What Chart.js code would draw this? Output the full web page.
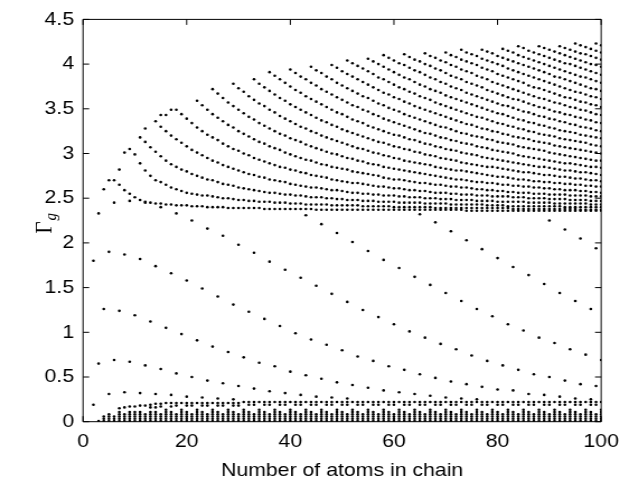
<!DOCTYPE html>
<html>
<head>
<meta charset="utf-8">
<script src="https://cdn.jsdelivr.net/npm/chart.js@4/dist/chart.umd.min.js"></script>
<style>
html,body{margin:0;padding:0;background:#fff;overflow:hidden;}
#wrap{width:562px;height:478px;transform:scaleX(1.1192);transform-origin:0 0;}
canvas{display:block;}
</style>
</head>
<body>
<div id="wrap"><canvas id="c" width="562" height="478"></canvas></div>
<script>
// ---- axis ticks ----
const xTickValues = [0, 20, 40, 60, 80, 100];
const yTickValues = [0, 0.5, 1, 1.5, 2, 2.5, 3, 3.5, 4, 4.5];
const xTitle = 'Number of atoms in chain';

// ---- upper band: each arc has one value per chain length, starting at bandArcStart[k] ----
const bandArcStart = [4,7,11,14,18,22,25,29,33,36,40,44,48,51,55,58,62,66,70,73,77,81,84,88,92,95,99];
const arc01 = [2.60,2.70,2.70,2.65,2.59,2.55,2.51,2.48,2.46,2.45,2.44,2.44,2.43,2.43,2.42,2.42,2.42,2.41,2.41,2.41,2.40,2.40,2.40,2.40,2.39,2.39,2.39,2.39,2.39,2.39,2.39,2.38,
2.38,2.38,2.38,2.38,2.38,2.38,2.38,2.38,2.38,
2.37,2.37,2.37,2.37,2.37,2.37,2.37,2.37,2.37,2.37,2.37,2.37,2.37,2.37,2.37,2.37,2.37,2.37,2.37,2.37,2.37,2.37,2.37,2.37,2.37,2.37,2.37,2.37,2.37,
2.36,2.36,2.36,2.36,2.36,2.36,2.36,2.36,2.36,2.36,2.36,2.36,2.36,2.36,2.36,2.36,2.36,2.36,2.36,2.36,2.36,2.36,2.36,2.36,2.36,2.36,2.36];
const arc02 = [2.82,3.01,3.05,2.99,2.89,2.81,2.75,2.70,2.68,2.65,2.62,2.60,2.58,2.56,2.55,2.54,2.53,2.53,2.52,2.51,2.50,2.50,2.49,2.48,2.48,2.47,2.47,2.46,2.46,2.46,2.45,2.45,2.45,2.44,2.44,2.44,2.43,2.43,2.43,2.43,2.43,
2.42,2.42,2.42,2.42,2.42,2.42,2.41,2.41,2.41,2.41,2.41,2.41,2.40,2.40,2.40,2.40,2.40,2.40,2.40,2.40,
2.39,2.39,2.39,2.39,2.39,2.39,2.39,2.39,2.39,2.39,2.39,2.39,2.39,2.39,2.39,
2.38,2.38,2.38,2.38,2.38,2.38,2.38,2.38,2.38,2.38,2.38,2.38,2.38,2.37,2.37,2.37,2.37,2.37];
const arc03 = [3.18,3.13,3.07,3.02,2.97,2.92,2.88,2.85,2.82,2.80,2.77,2.75,2.73,2.71,2.70,2.68,2.66,2.65,2.64,2.62,2.61,2.60,2.59,2.58,2.57,2.56,2.56,2.55,2.54,2.54,2.53,2.53,2.52,2.51,2.51,2.51,2.50,2.50,2.49,2.49,2.48,2.48,2.48,2.47,2.47,2.47,2.46,2.46,2.46,2.46,2.45,2.45,2.45,2.45,2.45,2.44,2.44,2.44,2.44,2.44,2.43,2.43,2.43,2.43,2.43,2.43,2.43,2.42,2.42,2.42,2.42,
2.41,2.41,2.41,2.41,2.41,2.41,2.41,2.41,2.41,2.41,2.41,2.40,2.40,2.40,2.40,2.40,2.40,2.40,2.40];
const arc04 = [3.36,3.30,3.25,3.20,3.16,3.12,3.08,3.04,3.01,2.98,2.95,2.92,2.90,2.87,2.85,2.83,2.81,2.79,2.77,2.76,2.74,2.73,2.71,2.70,2.69,2.68,2.66,2.65,2.64,2.63,2.62,2.62,2.61,2.60,2.59,2.59,2.58,2.57,2.56,2.56,2.55,2.55,2.54,2.54,2.53,2.53,2.53,2.52,2.52,2.51,2.51,2.51,2.50,2.50,2.50,2.49,2.49,2.49,2.48,2.48,2.48,2.48,2.47,2.47,2.47,2.47,2.46,2.46,2.46,2.46,2.46,2.46,2.45,2.45,2.45,2.45,2.45,2.44,2.44,2.44,2.44,2.44,2.44,2.44,2.43,2.43,2.43];
const arc05 = [3.49,3.44,3.39,3.34,3.29,3.25,3.21,3.18,3.15,3.11,3.08,3.05,3.03,3.00,2.98,2.95,2.93,2.91,2.89,2.87,2.85,2.84,2.82,2.81,2.79,2.78,2.76,2.75,2.74,2.73,2.71,2.70,2.69,2.68,2.67,2.67,2.66,2.65,2.64,2.63,2.63,2.62,2.61,2.61,2.60,2.59,2.59,2.58,2.58,2.57,2.56,2.56,2.56,2.55,2.55,2.54,2.54,2.54,2.53,2.53,2.53,2.52,2.52,2.52,2.52,2.51,2.51,2.51,2.50,2.50,2.50,2.50,2.49,2.49,2.49,2.49,2.48,2.48,2.48,2.48,2.47,2.47,2.47];
const arc06 = [3.59,3.54,3.49,3.44,3.40,3.36,3.32,3.29,3.25,3.22,3.19,3.16,3.13,3.11,3.08,3.06,3.04,3.01,2.99,2.97,2.95,2.93,2.92,2.90,2.88,2.87,2.85,2.84,2.83,2.82,2.80,2.79,2.78,2.77,2.76,2.75,2.73,2.72,2.71,2.71,2.70,2.69,2.68,2.67,2.67,2.66,2.65,2.65,2.64,2.63,2.63,2.62,2.62,2.61,2.60,2.60,2.59,2.59,2.58,2.58,2.57,2.57,2.56,2.56,2.56,2.55,2.55,2.55,2.54,2.54,2.54,2.54,2.53,2.53,2.53,2.53,2.52,2.52,2.52];
const arc07 = [3.72,3.67,3.62,3.57,3.53,3.49,3.45,3.41,3.38,3.34,3.31,3.28,3.25,3.22,3.20,3.17,3.15,3.13,3.10,3.08,3.06,3.04,3.02,3.00,2.99,2.97,2.95,2.94,2.92,2.91,2.89,2.88,2.87,2.85,2.84,2.83,2.82,2.81,2.80,2.79,2.78,2.77,2.76,2.75,2.74,2.73,2.72,2.71,2.71,2.70,2.69,2.68,2.68,2.67,2.67,2.66,2.65,2.65,2.64,2.64,2.63,2.63,2.62,2.62,2.61,2.61,2.60,2.60,2.59,2.59,2.59,2.58,2.58,2.57,2.57,2.56];
const arc08 = [3.78,3.73,3.69,3.64,3.60,3.56,3.53,3.49,3.46,3.42,3.39,3.36,3.33,3.30,3.28,3.25,3.23,3.20,3.18,3.16,3.14,3.12,3.10,3.08,3.06,3.05,3.03,3.01,3.00,2.98,2.97,2.95,2.94,2.92,2.91,2.90,2.89,2.88,2.87,2.85,2.84,2.83,2.82,2.81,2.81,2.80,2.79,2.78,2.77,2.76,2.75,2.74,2.74,2.73,2.72,2.71,2.71,2.70,2.69,2.69,2.68,2.68,2.67,2.67,2.66,2.66,2.65,2.65,2.64,2.64,2.63,2.63];
const arc09 = [3.83,3.78,3.74,3.70,3.66,3.62,3.59,3.55,3.52,3.49,3.46,3.43,3.40,3.37,3.35,3.32,3.30,3.27,3.25,3.23,3.21,3.19,3.17,3.15,3.13,3.12,3.10,3.08,3.07,3.05,3.04,3.02,3.01,2.99,2.98,2.97,2.95,2.94,2.93,2.92,2.90,2.89,2.88,2.87,2.86,2.85,2.85,2.84,2.83,2.82,2.81,2.80,2.79,2.79,2.78,2.77,2.76,2.76,2.75,2.74,2.74,2.73,2.72,2.72,2.71,2.70,2.70,2.69];
const arc10 = [3.91,3.87,3.83,3.79,3.75,3.71,3.68,3.64,3.61,3.58,3.55,3.52,3.49,3.46,3.44,3.41,3.38,3.36,3.34,3.31,3.29,3.27,3.25,3.23,3.21,3.20,3.18,3.16,3.15,3.13,3.11,3.10,3.08,3.07,3.05,3.04,3.03,3.01,3.00,2.99,2.98,2.96,2.95,2.94,2.93,2.92,2.91,2.90,2.89,2.88,2.87,2.86,2.85,2.85,2.84,2.83,2.82,2.81,2.81,2.80,2.79,2.79,2.78,2.77,2.76];
const arc11 = [3.94,3.90,3.86,3.83,3.79,3.76,3.72,3.69,3.66,3.63,3.60,3.57,3.54,3.52,3.49,3.47,3.44,3.42,3.39,3.37,3.35,3.33,3.31,3.29,3.27,3.25,3.23,3.22,3.20,3.18,3.17,3.15,3.14,3.12,3.11,3.10,3.08,3.07,3.06,3.04,3.03,3.02,3.01,3.00,2.98,2.97,2.96,2.95,2.94,2.93,2.92,2.91,2.90,2.89,2.89,2.88,2.87,2.86,2.85,2.85,2.84];
const arc12 = [3.97,3.93,3.90,3.86,3.83,3.79,3.76,3.73,3.70,3.67,3.64,3.62,3.59,3.56,3.54,3.51,3.49,3.47,3.44,3.42,3.40,3.38,3.36,3.34,3.32,3.30,3.29,3.27,3.25,3.23,3.22,3.20,3.19,3.18,3.16,3.15,3.13,3.12,3.11,3.10,3.08,3.07,3.06,3.05,3.04,3.03,3.01,3.00,2.99,2.98,2.97,2.96,2.95,2.94,2.93,2.92,2.92];
const arc13 = [3.99,3.96,3.92,3.89,3.86,3.83,3.80,3.77,3.74,3.71,3.68,3.66,3.63,3.61,3.58,3.56,3.53,3.51,3.49,3.47,3.45,3.43,3.41,3.39,3.37,3.35,3.33,3.32,3.30,3.28,3.27,3.25,3.24,3.22,3.21,3.19,3.18,3.17,3.16,3.14,3.13,3.12,3.11,3.09,3.08,3.07,3.06,3.05,3.04,3.03,3.02,3.01,3.00];
const arc14 = [4.04,4.01,3.98,3.95,3.92,3.89,3.85,3.83,3.80,3.77,3.74,3.72,3.69,3.67,3.64,3.62,3.60,3.57,3.55,3.53,3.51,3.49,3.47,3.45,3.43,3.41,3.40,3.38,3.36,3.34,3.33,3.31,3.30,3.28,3.27,3.25,3.24,3.22,3.21,3.20,3.19,3.17,3.16,3.15,3.14,3.13,3.12,3.10,3.09,3.08];
const arc15 = [4.06,4.03,4.00,3.97,3.94,3.91,3.88,3.85,3.83,3.80,3.77,3.75,3.72,3.70,3.68,3.65,3.63,3.61,3.59,3.57,3.55,3.53,3.51,3.49,3.47,3.45,3.44,3.42,3.40,3.38,3.37,3.35,3.34,3.32,3.31,3.29,3.28,3.26,3.25,3.24,3.23,3.21,3.20,3.19,3.18,3.17];
const arc16 = [4.10,4.07,4.04,4.01,3.99,3.96,3.93,3.91,3.88,3.85,3.83,3.80,3.78,3.75,3.73,3.71,3.68,3.66,3.64,3.62,3.60,3.58,3.56,3.54,3.53,3.51,3.49,3.47,3.46,3.44,3.42,3.41,3.39,3.38,3.36,3.35,3.33,3.32,3.30,3.29,3.28,3.26,3.25];
const arc17 = [4.11,4.08,4.05,4.03,4.00,3.98,3.95,3.93,3.90,3.87,3.85,3.83,3.80,3.78,3.76,3.74,3.71,3.69,3.67,3.65,3.63,3.61,3.60,3.58,3.56,3.54,3.52,3.51,3.49,3.47,3.46,3.44,3.43,3.41,3.40,3.38,3.37,3.35,3.34];
const arc18 = [4.12,4.09,4.07,4.04,4.02,3.99,3.97,3.94,3.92,3.90,3.87,3.85,3.83,3.80,3.78,3.76,3.74,3.72,3.70,3.68,3.66,3.64,3.62,3.61,3.59,3.57,3.56,3.54,3.52,3.51,3.49,3.48,3.46,3.44,3.43];
const arc19 = [4.13,4.10,4.08,4.05,4.03,4.01,3.99,3.96,3.94,3.92,3.89,3.87,3.85,3.83,3.81,3.79,3.76,3.74,3.73,3.71,3.69,3.67,3.65,3.63,3.62,3.60,3.58,3.57,3.55,3.54,3.52];
const arc20 = [4.16,4.13,4.11,4.09,4.06,4.04,4.02,4.00,3.98,3.95,3.93,3.91,3.89,3.87,3.85,3.83,3.81,3.79,3.77,3.75,3.73,3.71,3.69,3.68,3.66,3.64,3.63,3.61];
const arc21 = [4.16,4.14,4.12,4.09,4.07,4.05,4.03,4.01,3.99,3.97,3.95,3.93,3.91,3.89,3.86,3.85,3.83,3.81,3.79,3.77,3.75,3.73,3.72,3.70];
const arc22 = [4.17,4.15,4.13,4.10,4.08,4.06,4.04,4.02,4.00,3.98,3.96,3.94,3.92,3.90,3.88,3.86,3.85,3.83,3.81,3.79];
const arc23 = [4.20,4.18,4.15,4.13,4.11,4.09,4.07,4.05,4.03,4.01,4.00,3.98,3.96,3.94,3.92,3.90,3.88];
const arc24 = [4.20,4.18,4.16,4.14,4.12,4.10,4.08,4.06,4.04,4.02,4.00,3.99,3.97];
const arc25 = [4.20,4.18,4.16,4.14,4.12,4.11,4.09,4.07,4.05];
const arc26 = [4.23,4.21,4.19,4.17,4.15,4.13];
const arc27 = [4.23,4.21];
const bandArcs = [arc01,arc02,arc03,arc04,arc05,arc06,arc07,arc08,arc09,arc10,arc11,arc12,arc13,arc14,arc15,arc16,arc17,arc18,arc19,arc20,arc21,arc22,arc23,arc24,arc25,arc26,arc27];
// single extra dots on the jagged upper edge at small N
const bandExtraN = [12, 15, 16, 17];
const bandExtraY = [3.28, 3.43, 3.43, 3.49];

// ---- isolated descending lines: one value every 3rd chain length ----
const lineStep = 3;
const lineStart = [2, 3, 4, 3, 5, 43, 65, 90];
const lowLine1 = [1.80,1.90,1.87,1.82,1.74,1.66,1.58,1.49,1.40,1.31,1.23,1.15,1.07,0.99,0.92,0.86,0.80,0.73,0.68,0.62,0.58,0.53,0.49,0.45,0.42,0.39,0.36,0.35,0.31,0.30,0.28,0.26,0.25];
const lowLine2 = [2.33,2.45,2.47,2.45,2.40,2.33,2.25,2.16,2.08,1.98,1.89,1.79,1.70,1.61,1.52,1.43,1.34,1.25,1.17,1.09,1.01,0.94,0.87,0.81,0.74,0.68,0.63,0.58,0.53,0.50,0.46,0.42,0.40];
const lowLine3 = [1.26,1.24,1.19,1.12,1.05,0.98,0.91,0.84,0.78,0.72,0.66,0.62,0.56,0.52,0.48,0.44,0.41,0.38,0.35,0.33,0.31,0.29,0.27,0.26,0.25];
const lowLine4 = [0.65,0.69,0.67,0.63,0.59,0.54,0.50,0.46,0.43,0.40,0.37,0.34,0.32,0.30,0.28,0.27,0.26];
const lowLine5 = [0.31,0.33,0.32,0.31,0.30,0.28,0.27,0.26,0.25];
const lowLine6 = [2.31,2.21,2.11,2.01,1.91,1.81,1.72,1.62,1.53,1.44,1.35,1.26,1.18,1.09,1.02,0.94,0.88,0.81,0.75,0.69];
const lowLine7 = [2.32,2.23,2.13,2.03,1.93,1.83,1.73,1.64,1.54,1.44,1.35,1.26];
const lowLine8 = [2.25,2.15,2.05,1.94];
const lowLines = [lowLine1,lowLine2,lowLine3,lowLine4,lowLine5,lowLine6,lowLine7,lowLine8];

// ---- bottom strip: stacked dots per chain length (N = 1..100) ----
const lowBarLevels = [0.008,0.033,0.058,0.083,0.108,0.133];
const lowBarTop = [null,null,0.03,0.06,0.09,0.06,0.11,0.09,0.11,0.11,
0.11,0.09,0.11,0.11,0.09,0.14,0.11,0.09,0.14,0.11,
0.09,0.14,0.11,0.09,0.14,0.11,0.09,0.14,0.11,0.09,
0.14,0.11,0.09,0.14,0.11,0.09,0.14,0.11,0.09,0.14,
0.11,0.09,0.14,0.11,0.09,0.14,0.11,0.09,0.14,0.11,
0.09,0.14,0.11,0.09,0.14,0.11,0.09,0.14,0.11,0.09,
0.14,0.11,0.09,0.14,0.11,0.09,0.14,0.11,0.09,0.14,
0.11,0.09,0.14,0.11,0.09,0.14,0.11,0.09,0.14,0.11,
0.09,0.14,0.11,0.09,0.14,0.11,0.09,0.14,0.11,0.09,
0.14,0.11,0.09,0.14,0.11,0.09,0.14,0.11,0.09,0.14];
const lowRowA = [null,0.19,null,null,null,null,0.15,0.16,0.17,0.17,0.18,0.18,0.19,0.20,0.20,0.21,
0.21,0.21,0.21,0.21,0.21,0.21,0.21,0.21,0.21,0.21,0.21,0.21,0.21,0.21,
0.22,0.22,0.22,0.22,0.22,0.22,0.22,0.22,0.22,0.22,0.22,0.22,0.22,0.22,0.22,0.22,0.22,0.22,0.22,0.22,0.22,0.22,0.22,0.22,0.22,0.22,0.22,0.22,0.22,0.22,
0.22,0.22,0.22,0.22,0.22,0.22,0.22,0.22,0.22,0.22,0.22,0.22,0.22,0.22,0.22,0.22,0.22,0.22,0.22,0.22,0.22,0.22,0.22,0.22,0.22,0.22,0.22,0.22,0.22,0.22,0.22,0.22,0.22,0.22,0.22,0.22,0.22,0.22,0.22,0.22];
const lowRowB = [null,null,null,null,null,null,null,null,null,null,null,null,0.16,0.16,0.17,null,0.17,0.18,null,0.18,
0.18,null,0.18,0.18,null,0.18,0.18,null,0.18,0.18,null,0.19,0.19,null,0.19,0.19,null,0.19,0.19,null,
0.19,0.19,null,0.19,0.19,null,0.19,0.19,null,0.19,0.19,null,0.19,0.19,null,0.19,0.19,null,0.19,0.19,
null,0.19,0.19,null,0.19,0.19,null,0.19,0.19,null,0.19,0.19,null,0.19,0.19,null,0.19,0.19,null,0.19,
0.19,null,0.19,0.19,null,0.19,0.19,null,0.19,0.19,null,0.19,0.19,null,0.19,0.19,null,0.19,0.19,null];

// ---- build point lists ----
const bandPoints = [];
bandArcs.forEach((arc, k) => arc.forEach((v, i) => bandPoints.push({x: bandArcStart[k] + i, y: v})));
bandExtraN.forEach((n, i) => bandPoints.push({x: n, y: bandExtraY[i]}));
const linePoints = [];
lowLines.forEach((ln, k) => ln.forEach((v, i) => linePoints.push({x: lineStart[k] + lineStep * i, y: v})));
const stripPoints = [];
lowBarTop.forEach((top, i) => {
  if (top === null) return;
  lowBarLevels.forEach(l => { if (l <= top + 1e-9) stripPoints.push({x: i + 1, y: l}); });
});
lowRowA.forEach((v, i) => { if (v !== null) stripPoints.push({x: i + 1, y: v}); });
lowRowB.forEach((v, i) => { if (v !== null) stripPoints.push({x: i + 1, y: v}); });

const dotStyle = {pointRadius: 1.3, pointHoverRadius: 1.3, pointBackgroundColor: '#000', pointBorderWidth: 0, showLine: false};

const FONT = "'Liberation Sans', Arial, Helvetica, sans-serif";
const FSIZE = 19;
const TICK_LEN = 5.5;

const framePlugin = {
  id: 'frame',
  afterDatasetsDraw(chart) {
    const {ctx, chartArea: a, scales: {x, y}} = chart;
    ctx.save();
    ctx.strokeStyle = '#000';
    ctx.lineWidth = 1;
    ctx.beginPath();
    ctx.rect(a.left, a.top, a.right - a.left, a.bottom - a.top);
    xTickValues.forEach(v => {
      const px = x.getPixelForValue(v);
      ctx.moveTo(px, a.bottom); ctx.lineTo(px, a.bottom - TICK_LEN);
      ctx.moveTo(px, a.top); ctx.lineTo(px, a.top + TICK_LEN);
    });
    yTickValues.forEach(v => {
      const py = y.getPixelForValue(v);
      ctx.moveTo(a.left, py); ctx.lineTo(a.left + TICK_LEN, py);
      ctx.moveTo(a.right, py); ctx.lineTo(a.right - TICK_LEN, py);
    });
    ctx.stroke();
    // x title
    ctx.fillStyle = '#000';
    ctx.font = FSIZE + 'px ' + FONT;
    ctx.textAlign = 'center';
    ctx.textBaseline = 'alphabetic';
    ctx.fillText(xTitle, (a.left + a.right) / 2, 475.5);
    // y title: Gamma with subscript g, rotated
    ctx.translate(46, (a.top + a.bottom) / 2 + 13);
    ctx.rotate(-Math.PI / 2);
    ctx.textAlign = 'left';
    ctx.font = '21px "Liberation Serif", "DejaVu Serif", serif';
    ctx.fillText('\u0393', 0, 0);
    const w = ctx.measureText('\u0393').width;
    ctx.font = 'italic 15px "Liberation Serif", "DejaVu Serif", serif';
    ctx.fillText('g', w + 1, 4);
    ctx.restore();
  }
};

new Chart(document.getElementById('c'), {
  type: 'scatter',
  data: {datasets: [
    Object.assign({label: 'band', data: bandPoints}, dotStyle),
    Object.assign({label: 'lines', data: linePoints}, dotStyle),
    Object.assign({label: 'strip', data: stripPoints}, dotStyle)
  ]},
  options: {
    responsive: false,
    animation: false,
    devicePixelRatio: 1,
    layout: {padding: {top: 18.3, right: 15.6, left: 0, bottom: 0}},
    plugins: {legend: {display: false}, tooltip: {enabled: false}},
    scales: {
      x: {
        type: 'linear', min: 0, max: 100, position: 'bottom',
        afterBuildTicks: s => { s.ticks = xTickValues.map(v => ({value: v})); },
        afterFit: s => { s.height = 56.3; },
        grid: {display: false, drawTicks: false},
        border: {display: false},
        ticks: {color: '#000', padding: 9, font: {family: FONT, size: FSIZE}, maxRotation: 0, autoSkip: false, callback: v => String(v)}
      },
      y: {
        type: 'linear', min: 0, max: 4.5, position: 'left',
        afterBuildTicks: s => { s.ticks = yTickValues.map(v => ({value: v})); },
        afterFit: s => { s.width = 74.2; },
        grid: {display: false, drawTicks: false},
        border: {display: false},
        ticks: {color: '#000', padding: 8, font: {family: FONT, size: FSIZE}, autoSkip: false, callback: v => String(v)}
      }
    }
  },
  plugins: [framePlugin]
});
</script>
</body>
</html>
